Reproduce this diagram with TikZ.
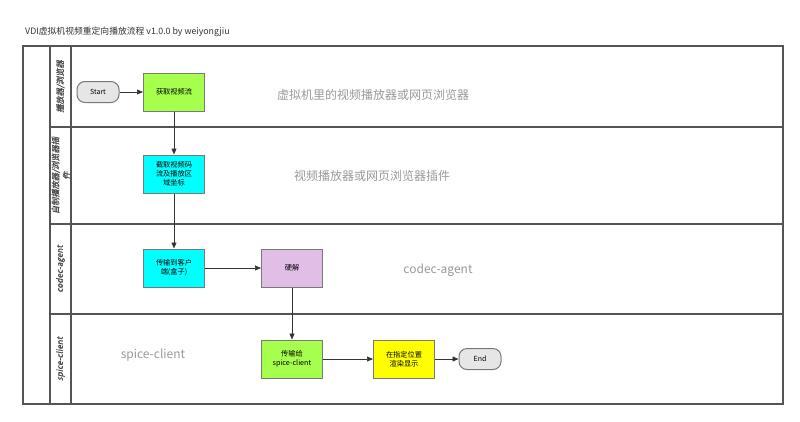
\documentclass[tikz,border=0pt]{standalone}
\usepackage{fontspec}
\usepackage{xcolor}
\setmainfont{Noto Sans CJK SC}
\newfontfamily\lanefont[FakeSlant=0.2,FakeBold=1.2]{Noto Sans CJK SC}
\usetikzlibrary{arrows.meta}
\definecolor{framegray}{RGB}{85,85,85}
\definecolor{boxline}{RGB}{120,120,120}
\definecolor{boxgreen}{RGB}{166,255,77}
\definecolor{boxcyan}{RGB}{0,255,255}
\definecolor{boxpurple}{RGB}{224,190,230}
\definecolor{boxyellow}{RGB}{255,255,0}
\definecolor{termgray}{RGB}{230,230,230}
\tikzset{
  procbox/.style={draw=boxline, line width=1pt, minimum width=61, minimum height=38, inner sep=1pt, align=center, font=\fontsize{7.2}{9}\selectfont},
  termbox/.style={draw=boxline, fill=termgray, line width=1pt, rounded corners=8, minimum width=42, minimum height=21, inner sep=1pt, font=\fontsize{7}{8}\selectfont},
  flow/.style={draw=black!80, line width=0.6pt, -{Triangle[length=6pt,width=5pt]}},
  lanetext/.style={rotate=90, align=center, text=black!70, font=\lanefont\fontsize{8.2}{11}\selectfont},
  bgtext/.style={text=black!40, font=\fontsize{12}{14}\selectfont},
}

\begin{document}
\begin{tikzpicture}[x=1pt,y=1pt,yscale=-1,xscale=1]
\useasboundingbox (0,0) rectangle (800,421);
% Title
\node (title) [anchor=west, inner sep=0pt, text=black!80, font=\fontsize{8.8}{10}\selectfont] at (25,32) {VDI虚拟机视频重定向播放流程 v1.0.0 by weiyongjiu};

%Shape: Pool frame
\draw [framegray, line width=1.2pt] (23,46) rectangle (783,404);
\draw [framegray, line width=1.2pt] (50,46) -- (50,404);
\draw [framegray, line width=1.2pt] (71,46) -- (71,404);
%Lane separators
\foreach \y in {127,224,314}
  \draw [framegray, line width=1.2pt] (50,\y) -- (783,\y);

% Lane labels
\node (lanePlayer) [lanetext] at (60.5,86.5) {播放器/浏览器};
\node (lanePlugin) [lanetext] at (61,175.5) {自制播放器/浏览器插\\件};
\node (laneAgent) [lanetext] at (60.5,269) {codec-agent};
\node (laneClient) [lanetext] at (60.5,359) {spice-client};

% Lane notes
\node (notePlayer) [bgtext] at (373,95) {虚拟机里的视频播放器或网页浏览器};
\node (notePlugin) [bgtext] at (372,176) {视频播放器或网页浏览器插件};
\node (noteAgent) [bgtext] at (438,270) {codec-agent};
\node (noteClient) [bgtext] at (153,355) {spice-client};

%Flowchart: Terminators and processes
\node (start) [termbox] at (98,92) {Start};
\node (fetch) [procbox, fill=boxgreen] at (174,92) {获取视频流};
\node (grab) [procbox, fill=boxcyan] at (174,174) {截取视频码\\流及播放区\\域坐标};
\node (send) [procbox, fill=boxcyan] at (174,268) {传输到客户\\端(盒子)};
\node (decode) [procbox, fill=boxpurple] at (292,268) {硬解};
\node (pass) [procbox, fill=boxgreen] at (292,359) {传输给\\spice-client};
\node (render) [procbox, fill=boxyellow] at (404,359) {在指定位置\\渲染显示};
\node (finish) [termbox] at (480,359) {End};

%Connectors
\draw [flow] (start) -- (fetch);
\draw [flow] (fetch) -- (grab);
\draw [flow] (grab) -- (send);
\draw [flow] (send) -- (decode);
\draw [flow] (decode) -- (pass);
\draw [flow] (pass) -- (render);
\draw [flow] (render) -- (finish);

\end{tikzpicture}
\end{document}
